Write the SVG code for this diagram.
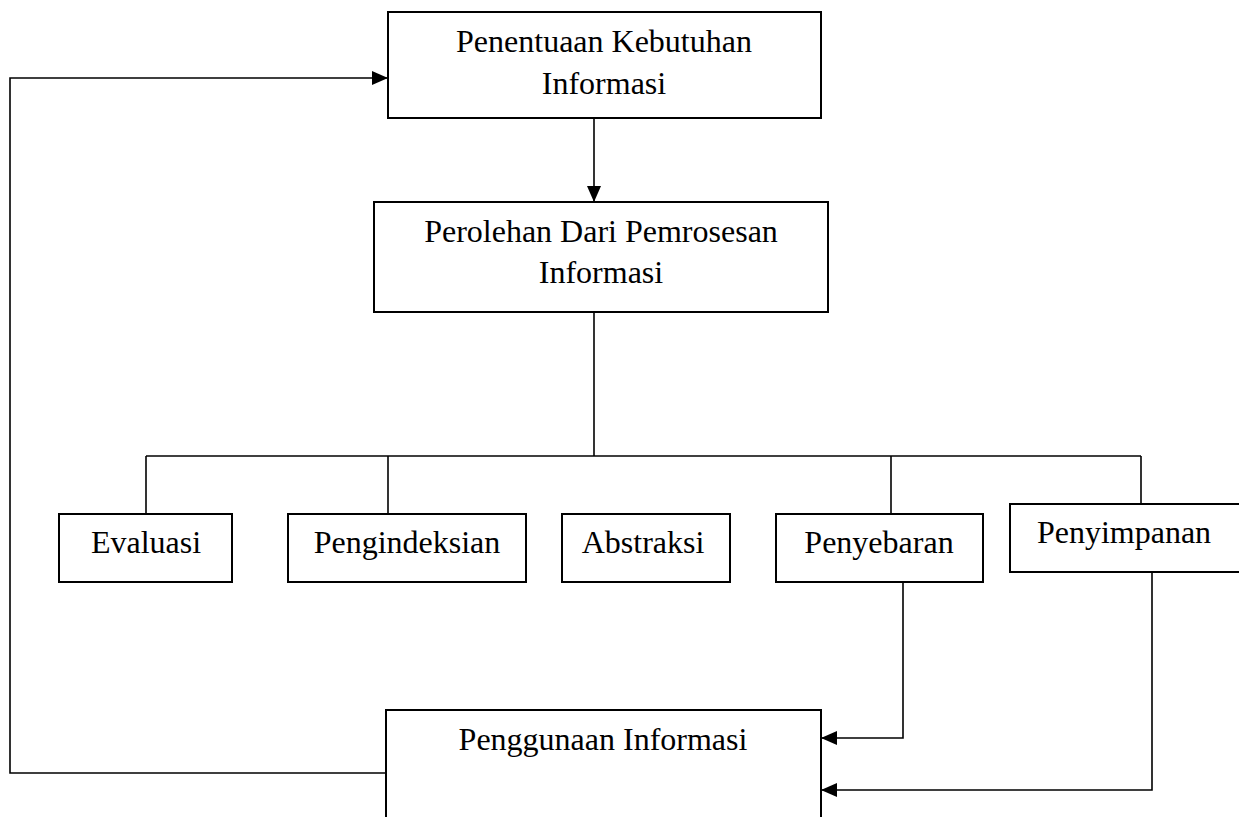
<svg xmlns="http://www.w3.org/2000/svg" width="1239" height="817" viewBox="0 0 1239 817">
<style>
.box{fill:#fff;stroke:#000;stroke-width:2}
.lbl{font-family:"Liberation Serif","Times New Roman",serif;font-size:32px;fill:#000;text-anchor:middle}
.ln{fill:none;stroke:#000;stroke-width:1.6}
</style>
<defs>
<marker id="arr" viewBox="0 0 16 14" refX="16" refY="7" markerWidth="16" markerHeight="14" markerUnits="userSpaceOnUse" orient="auto">
<path d="M0,0 L16,7 L0,14 z" fill="#000"/>
</marker>
</defs>
<rect width="1239" height="817" fill="#fff"/>
<g id="connectors">
<path class="ln" d="M386 773 H10 V78 H388" marker-end="url(#arr)"/>
<path class="ln" d="M594 118 V202" marker-end="url(#arr)"/>
<path class="ln" d="M594 312 V456"/>
<path class="ln" d="M146 456 H1141"/>
<path class="ln" d="M146 456 V514"/>
<path class="ln" d="M388 456 V514"/>
<path class="ln" d="M891 456 V514"/>
<path class="ln" d="M1141 456 V504"/>
<path class="ln" d="M903 582 V738 H821" marker-end="url(#arr)"/>
<path class="ln" d="M1152 572 V790 H821" marker-end="url(#arr)"/>
</g>
<g id="n-penentuan">
<rect class="box" x="388" y="12" width="433" height="106"/>
<text class="lbl" x="604" y="52">Penentuaan Kebutuhan</text>
<text class="lbl" x="604" y="94">Informasi</text>
</g>
<g id="n-perolehan">
<rect class="box" x="374" y="202" width="454" height="110"/>
<text class="lbl" x="601" y="242">Perolehan Dari Pemrosesan</text>
<text class="lbl" x="601" y="283">Informasi</text>
</g>
<g id="n-evaluasi">
<rect class="box" x="59" y="514" width="173" height="68"/>
<text class="lbl" x="146" y="553">Evaluasi</text>
</g>
<g id="n-pengindeksian">
<rect class="box" x="288" y="514" width="238" height="68"/>
<text class="lbl" x="407" y="553">Pengindeksian</text>
</g>
<g id="n-abstraksi">
<rect class="box" x="562" y="514" width="168" height="68"/>
<text class="lbl" x="643" y="553">Abstraksi</text>
</g>
<g id="n-penyebaran">
<rect class="box" x="776" y="514" width="207" height="68"/>
<text class="lbl" x="879" y="553">Penyebaran</text>
</g>
<g id="n-penyimpanan">
<rect class="box" x="1010" y="504" width="232" height="68"/>
<text class="lbl" x="1124" y="543">Penyimpanan</text>
</g>
<g id="n-penggunaan">
<rect class="box" x="386" y="710" width="435" height="120"/>
<text class="lbl" x="603" y="750">Penggunaan Informasi</text>
</g>
</svg>
